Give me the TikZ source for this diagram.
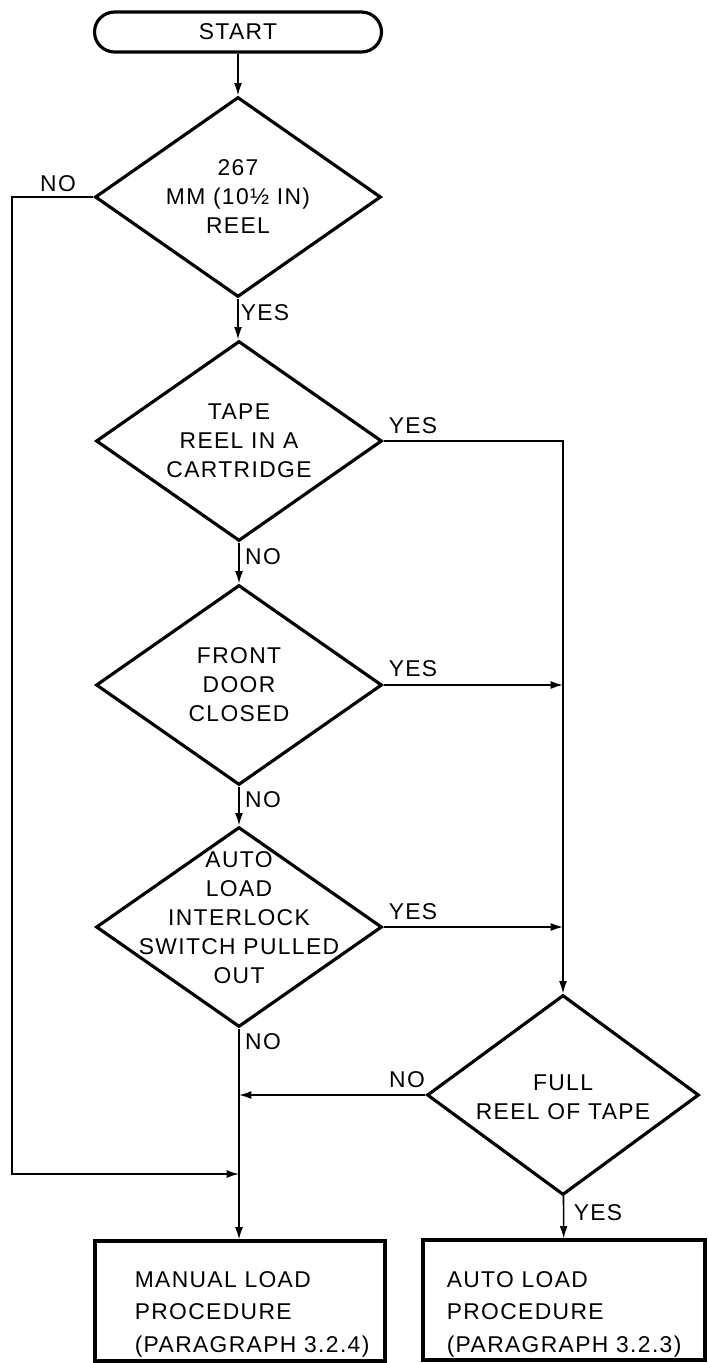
\documentclass[tikz,border=0pt]{standalone}
\usepackage{fontspec}
\setmainfont{Liberation Sans}[LetterSpace=6]
\usetikzlibrary{shapes.geometric,arrows.meta}
\tikzset{
  startbox/.style={draw, line width=1.8pt, rounded corners=0.4cm, minimum width=5.74cm, minimum height=0.8cm, inner sep=0pt, font=\fontsize{13}{16.5}\selectfont},
  decision/.style={diamond, draw, line width=1.8pt, minimum width=5.72cm, minimum height=4cm, inner sep=0pt},
  ask/.style={align=center, inner sep=0pt, font=\fontsize{13}{16.5}\selectfont},
  procbox/.style={draw, line width=1.8pt, minimum width=5.8cm, minimum height=2.4cm, inner sep=0pt},
  proctext/.style={anchor=west, align=left, inner sep=0pt, font=\fontsize{13}{18.5}\selectfont},
  lbl/.style={inner sep=0pt, font=\fontsize{13}{16}\selectfont}
}
\begin{document}
\begin{tikzpicture}[x=0.02cm,y=-0.02cm,>={Latex[length=7pt,width=4.5pt]},line width=0.9pt]
\useasboundingbox (0,0) rectangle (707,1363);
\path
(238,32) node[startbox] (start) {START}
(238,197) node[decision] (d1) {}
(238,197) node[ask] (d1t) {267\\MM (10½ IN)\\REEL}
(239,441) node[decision] (d2) {}
(239,441) node[ask] (d2t) {TAPE\\REEL IN A\\CARTRIDGE}
(239,685) node[decision] (d3) {}
(239,685) node[ask] (d3t) {FRONT\\DOOR\\CLOSED}
(239,927) node[decision] (d4) {}
(239,918) node[ask] (d4t) {AUTO\\LOAD\\INTERLOCK\\SWITCH PULLED\\OUT}
(563,1095) node[decision, minimum width=5.44cm] (d5) {}
(563,1097) node[ask] (d5t) {FULL\\REEL OF TAPE}
(240,1301) node[procbox] (manual) {}
(564,1300) node[procbox, minimum width=5.64cm] (auto) {}
(134,1314) node[proctext] (manualt) {MANUAL LOAD\\PROCEDURE\\(PARAGRAPH 3.2.4)}
(446,1314) node[proctext] (autot) {AUTO LOAD\\PROCEDURE\\(PARAGRAPH 3.2.3)};
% yes / no
\path
(58,184) node[lbl] (no1) {NO}
(265,313) node[lbl] (yes1) {YES}
(413,426) node[lbl] (yes2) {YES}
(263,557) node[lbl] (no2) {NO}
(413,669) node[lbl] (yes3) {YES}
(263,800) node[lbl] (no3) {NO}
(413,912) node[lbl] (yes4) {YES}
(263,1042) node[lbl] (no4) {NO}
(407,1080) node[lbl] (no5) {NO}
(598,1213) node[lbl] (yes5) {YES};
\coordinate (loopcorner) at (12,1174);
\coordinate (loopend) at (239,1174);
\draw[->] (start)--(d1);
\draw[->] (d1.south)--(d1.south |- d2.north);
\draw[->] (d2)--(d3);
\draw[->] (d3)--(d4);
\draw[->] (d4)--(d4 |- manual.north);
\draw[->] (d1.west) -| (loopcorner) -- (loopend);
\draw[->] (d2.east) -| (d5.north);
\draw[->] (d3.east) -- (d3.east -| d5.north);
\draw[->] (d4.east) -- (d4.east -| d5.north);
\draw[->] (d5.west) -- (d5.west -| d4.south);
\draw[->] (d5)--(auto);
\end{tikzpicture}
\end{document}
